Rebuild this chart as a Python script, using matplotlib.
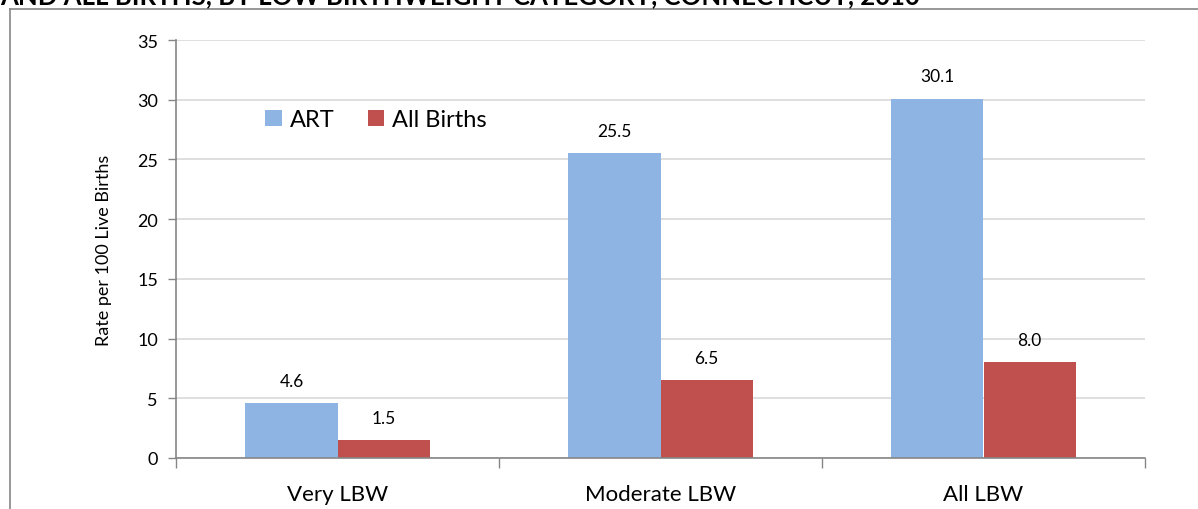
import matplotlib.pyplot as plt
from matplotlib.lines import Line2D
import numpy as np

# --- DATA ---
categories = ['Very LBW', 'Moderate LBW', 'All LBW']
art_rates = [4.6, 25.5, 30.1]
all_births_rates = [1.5, 6.5, 8.0]
series_names = ['ART', 'All Births']
title_text = 'AND ALL BIRTHS, BY LOW BIRTHWEIGHT CATEGORY, CONNECTICUT, 2010'

ART_COLOR = '#8EB4E3'
ALL_COLOR = '#C0504D'
AXIS_COLOR = '#868686'
GRID_COLOR = '#D9D9D9'

plt.rcParams['font.family'] = ['Lato', 'DejaVu Sans']


def plot_chart():
    fig = plt.figure(figsize=(11.98, 5.10), dpi=100)
    ax = fig.add_axes([176 / 1198, 1 - 459 / 510, (1145 - 176) / 1198, (459 - 41) / 510])

    x = np.arange(len(categories))
    width = 0.285
    ax.bar(x - width / 2, art_rates, width, color=ART_COLOR, label=series_names[0], zorder=2)
    ax.bar(x + width / 2, all_births_rates, width, color=ALL_COLOR, label=series_names[1], zorder=2)

    # value labels above bars
    for xi, v in zip(x - width / 2, art_rates):
        ax.text(xi, v + 1.2, f'{v:.1f}', ha='center', va='bottom', fontsize=12.5)
    for xi, v in zip(x + width / 2, all_births_rates):
        ax.text(xi, v + 1.2, f'{v:.1f}', ha='center', va='bottom', fontsize=12.5)

    ax.set_xlim(-0.5, len(categories) - 0.5)
    ax.set_ylim(0, 35)
    ax.set_yticks(range(0, 36, 5))
    ax.yaxis.grid(True, color=GRID_COLOR, linewidth=1.2, zorder=0)
    ax.set_axisbelow(True)

    # category boundaries as x ticks, labels in the middle
    ax.set_xticks(np.arange(-0.5, len(categories), 1.0))
    ax.set_xticklabels([])
    ax.set_xticks(x, minor=True)
    ax.set_xticklabels(categories, minor=True, fontsize=16)
    ax.tick_params(axis='x', which='major', length=7, width=1, color=AXIS_COLOR, direction='out')
    ax.tick_params(axis='x', which='minor', length=0, pad=19)
    ax.tick_params(axis='y', length=6, width=1, color=AXIS_COLOR, labelsize=13, pad=7)

    for side in ['top', 'right']:
        ax.spines[side].set_visible(False)
    for side in ['left', 'bottom']:
        ax.spines[side].set_color(AXIS_COLOR)
        ax.spines[side].set_linewidth(1.2)

    ax.set_ylabel('Rate per 100 Live Births', fontsize=13, labelpad=18)

    ax.legend(loc='upper left', bbox_to_anchor=(0.07, 0.885), ncol=2, frameon=False,
              fontsize=17, handlelength=0.7, handleheight=0.7, handletextpad=0.35,
              columnspacing=1.4)

    # chart-area border (partially cropped)
    fig.add_artist(Line2D([10 / 1198, 1.0], [1 - 10 / 510, 1 - 10 / 510],
                          transform=fig.transFigure, color=AXIS_COLOR, linewidth=1.2))
    fig.add_artist(Line2D([10 / 1198, 10 / 1198], [0, 1 - 10 / 510],
                          transform=fig.transFigure, color=AXIS_COLOR, linewidth=1.2))

    # title, cut off at top of image as in the source
    fig.text(0.0, 1 - 8 / 510, title_text, ha='left', va='bottom',
             fontsize=18.5, fontweight='bold')

    fig.savefig('out.png', dpi=100)


if __name__ == '__main__':
    plot_chart()
